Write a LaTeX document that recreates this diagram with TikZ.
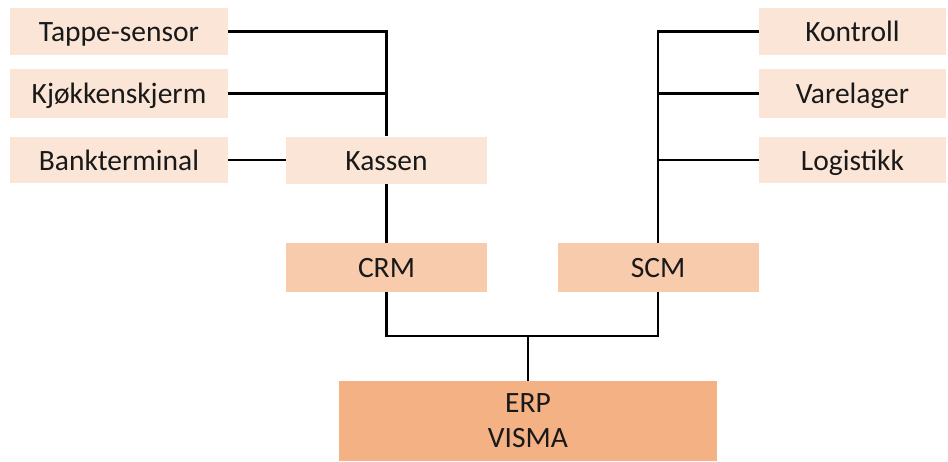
\documentclass[tikz,border=0pt]{standalone}
\usepackage{fontspec}
\setmainfont{Carlito}
\definecolor{tintlight}{HTML}{FBE5D6}
\definecolor{tintmid}{HTML}{F8CBAD}
\definecolor{tintdark}{HTML}{F4B183}
\begin{document}
\begin{tikzpicture}[x=1pt,y=-1pt,
  box/.style={rectangle,inner sep=0pt,draw=none,font=\fontsize{29.5}{35}\selectfont,text=black!90},
  oneline/.style={text height=21pt,text depth=1pt},
  leaf/.style={box,oneline,fill=tintlight},
  hub/.style={box,oneline,fill=tintmid},
  core/.style={box,fill=tintdark,align=center},
  wire/.style={draw=black,line width=2.1pt}]
\useasboundingbox[fill=white] (0,0) rectangle (948,461);

% left branch
\node[leaf,minimum width=218pt,minimum height=47pt] (tappe) at (119,31.5) {Tappe-sensor};
\node[leaf,minimum width=218pt,minimum height=49pt] (kjokken) at (119,93.5) {Kjøkkenskjerm};
\node[leaf,minimum width=218pt,minimum height=46pt] (bank) at (119,160) {Bankterminal};
\node[leaf,minimum width=201pt,minimum height=47pt] (kassen) at (386.5,160) {Kassen};
\node[hub,minimum width=201pt,minimum height=49pt] (crm) at (386.5,267.5) {CRM};

% right branch
\node[leaf,minimum width=187pt,minimum height=47pt] (kontroll) at (852.5,31.5) {Kontroll};
\node[leaf,minimum width=187pt,minimum height=49pt] (varelager) at (852.5,93.5) {Varelager};
\node[leaf,minimum width=187pt,minimum height=46pt] (logistikk) at (852.5,160) {Logistikk};
\node[hub,minimum width=201pt,minimum height=49pt] (scm) at (658,267.5) {SCM};

% core system
\node[core,minimum width=378pt,minimum height=80pt] (erp) at (528,421) {ERP\\VISMA};
\coordinate (bus) at (528,336);

% connectors
\draw[wire] (tappe.east) -| (kassen.north);
\draw[wire] (kjokken.east) -- (kjokken.east -| kassen.north);
\draw[wire] (bank.east) -- (kassen.west);
\draw[wire] (kassen.south) -- (crm.north);
\draw[wire] (kontroll.west) -| (scm.north);
\draw[wire] (varelager.west) -- (varelager.west -| scm.north);
\draw[wire] (logistikk.west) -- (logistikk.west -| scm.north);
\draw[wire] (crm.south) |- (bus) -| (scm.south);
\draw[wire] (erp.north) -- (bus);
\end{tikzpicture}
\end{document}
